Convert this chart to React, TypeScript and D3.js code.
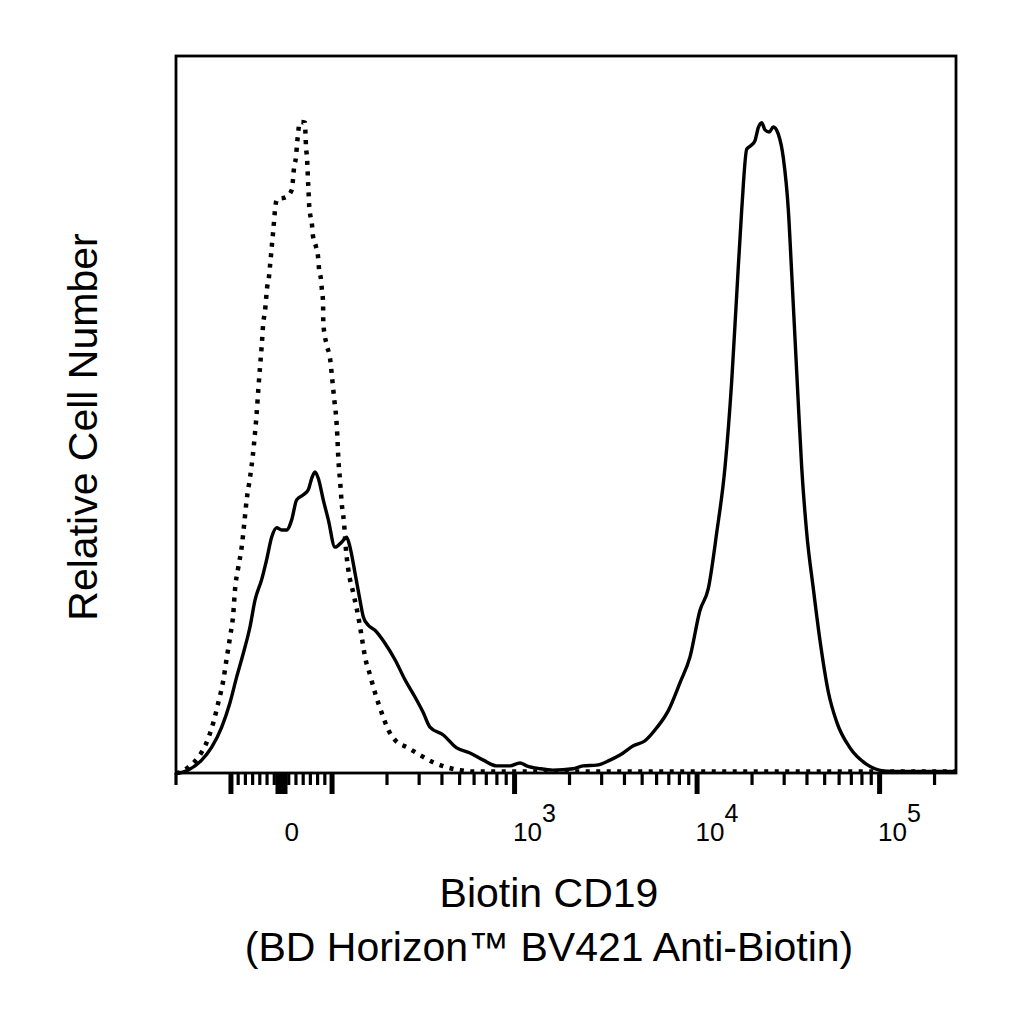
import React from 'react';
import * as d3 from 'd3';

// Histogram data: x in display channels (0..1000 across the axis), y in relative count
const solidSeries: [number, number][] = [
  [0, 0], [2.6, 0], [15.4, 0.4], [32.9, 1.8], [45.8, 3.6], [58.6, 6.4], [69.2, 9.8],
  [77.8, 13.4], [86.3, 16.7], [94.9, 20.4], [101.3, 24.1], [109.9, 27.0], [116.3, 29.8],
  [122.7, 32.9], [129.1, 34.2], [135.5, 33.9], [141.9, 33.9], [148.3, 35.3], [154.7, 38.1],
  [163.2, 38.8], [169.6, 39.5], [174.0, 41.1], [178.2, 42.0], [182.4, 41.1], [188.8, 38.1],
  [195.3, 35.3], [203.8, 31.5], [212.4, 32.2], [218.8, 32.9], [223.1, 31.5], [229.5, 27.9],
  [235.9, 24.1], [240.1, 21.8], [246.5, 20.6], [255.1, 19.9], [267.9, 18.1], [280.8, 15.8],
  [293.6, 13.0], [306.4, 10.6], [317.1, 8.4], [325.6, 6.4], [342.7, 5.3], [359.9, 3.5],
  [376.9, 2.8], [394.0, 1.8], [411.2, 1.0], [428.2, 1.0], [441.0, 1.4], [449.6, 1.0],
  [466.7, 0.6], [483.3, 0.4], [509.0, 0.6], [521.8, 1.0], [539.4, 1.1], [556.4, 1.8],
  [569.2, 2.5], [586.3, 3.8], [601.3, 4.5], [616.3, 6.3], [631.2, 8.7], [646.2, 12.6],
  [659.0, 16.2], [671.8, 22.7], [682.4, 25.7], [693.2, 33.5], [703.8, 42.6], [712.4, 54.6],
  [718.8, 66.6], [725.3, 78.6], [731.7, 87.0], [738.1, 87.6], [742.3, 88.2], [746.5, 90.0],
  [750.9, 90.7], [755.1, 89.7], [760.6, 89.4], [765.8, 90.1], [772.2, 89.1], [778.6, 85.8],
  [785.0, 78.6], [789.4, 69.6], [793.6, 60.6], [797.8, 51.6], [802.2, 42.6], [808.6, 33.5],
  [817.1, 25.7], [825.6, 18.5], [836.3, 11.3], [847.1, 7.1], [864.1, 3.5], [885.5, 1.2],
  [906.8, 0.3], [928.2, 0.2], [1000, 0.2],
];

const dottedSeries: [number, number][] = [
  [0, 0], [5.1, 0.1], [15.8, 0.8], [28.6, 2.2], [39.4, 4.3], [47.8, 7.0], [54.2, 9.8],
  [60.6, 12.9], [65.0, 16.0], [69.2, 18.9], [73.5, 22.3], [75.6, 25.5], [79.9, 28.7],
  [84.2, 31.5], [87.6, 34.9], [90.6, 38.1], [94.9, 41.2], [98.3, 44.1], [101.3, 47.4],
  [103.5, 50.3], [105.5, 53.4], [107.7, 56.6], [109.9, 59.6], [111.9, 62.8], [114.1, 64.4],
  [115.4, 66.0], [116.7, 67.6], [119.2, 69.2], [120.5, 70.7], [121.8, 72.2], [123.1, 73.8],
  [124.4, 75.3], [125.6, 76.8], [126.9, 78.5], [129.5, 80.0], [141.0, 80.3], [148.7, 81.4],
  [150.0, 82.8], [151.3, 84.4], [153.8, 85.9], [155.1, 87.6], [156.4, 89.1], [159.0, 90.8],
  [165.4, 90.7], [166.0, 89.1], [166.7, 87.3], [167.9, 85.9], [168.6, 84.4], [169.2, 82.7],
  [169.9, 81.2], [170.5, 79.6], [171.8, 78.1], [174.4, 76.4], [175.6, 74.9], [179.5, 73.4],
  [182.1, 72.0], [183.3, 70.4], [185.9, 68.8], [187.2, 67.2], [188.5, 65.7], [188.7, 64.2],
  [188.8, 62.8], [193.2, 59.7], [197.4, 57.9], [200.4, 54.8], [203.0, 52.0], [205.1, 49.9],
  [206.8, 47.1], [208.1, 43.9], [210.3, 40.8], [212.4, 37.7], [215.4, 34.9], [217.6, 31.5],
  [221.0, 28.3], [227.3, 25.1], [233.7, 21.8], [238.1, 19.0], [242.3, 16.2], [248.7, 13.7],
  [255.1, 11.2], [263.7, 8.4], [272.2, 6.0], [280.8, 4.6], [297.8, 3.5], [312.8, 2.5],
  [329.5, 1.5], [347.1, 0.8], [364.1, 0.4], [380.8, 0.2], [402.6, 0.2], [1000, 0.2],
];

// Axis ticks (fluorescence values)
const majorTicks = [-100, 100, 1000, 10000, 100000];
const zeroTick = [0];
const minorTicks = [
  -200, -85.7, -71.4, -57.1, -42.9, -28.6, -14.3, 14.3, 28.6, 42.9, 57.1, 71.4, 85.7,
  200, 300, 400, 500, 600, 700, 800, 900,
  2000, 3000, 4000, 5000, 6000, 7000, 8000, 9000,
  20000, 30000, 40000, 50000, 60000, 70000, 80000, 90000,
  200000,
];
const tickLabels: { value: number; base: string; exp: string }[] = [
  { value: 0, base: '0', exp: '' },
  { value: 1000, base: '10', exp: '3' },
  { value: 10000, base: '10', exp: '4' },
  { value: 100000, base: '10', exp: '5' },
];

const xTitle1 = 'Biotin CD19';
const xTitle2 = '(BD Horizon\u2122 BV421 Anti-Biotin)';
const yTitle = 'Relative Cell Number';

// biexponential-like display transform (linear near zero, log above)
const LIN = 100;
const K = 0.00277;
function biex(v: number): number {
  const a = Math.abs(v);
  const t = a <= LIN ? a * K : LIN * K + Math.log10(a / LIN);
  return Math.sign(v) * t;
}

const W = 1024;
const H = 1024;
const left = 176;
const right = 956;
const top = 56;
const bottom = 773;
const font = '"Liberation Sans", Arial, Helvetica, sans-serif';

export default function App() {
  const chan = d3.scaleLinear().domain([biex(-200), biex(262144)]).range([0, 1000]);
  const x = d3.scaleLinear().domain([0, 1000]).range([left, right]);
  const y = d3.scaleLinear().domain([0, 100]).range([bottom, top]);
  const vx = (v: number) => x(chan(biex(v)));

  const line = d3
    .line<[number, number]>()
    .x((d) => x(d[0]))
    .y((d) => y(d[1]))
    .curve(d3.curveMonotoneX);

  return (
    <svg
      width={W}
      height={H}
      viewBox={`0 0 ${W} ${H}`}
      style={{ position: 'absolute', left: 0, top: 0, background: '#fff' }}
    >
      <rect x={0} y={0} width={W} height={H} fill="#fff" />
      <path d={line(dottedSeries) || ''} fill="none" stroke="#000" strokeWidth={4.5} strokeDasharray="4 6.5" />
      <path d={line(solidSeries) || ''} fill="none" stroke="#000" strokeWidth={3.4} strokeLinejoin="round" />
      <rect x={left} y={top} width={right - left} height={bottom - top} fill="none" stroke="#000" strokeWidth={2.8} />
      {minorTicks.map((v) => (
        <line key={'mi' + v} x1={vx(v)} x2={vx(v)} y1={bottom} y2={bottom + 12} stroke="#000" strokeWidth={3.2} />
      ))}
      {majorTicks.map((v) => (
        <line key={'ma' + v} x1={vx(v)} x2={vx(v)} y1={bottom} y2={bottom + 21} stroke="#000" strokeWidth={5} />
      ))}
      {zeroTick.map((v) => (
        <line key={'z' + v} x1={vx(v)} x2={vx(v)} y1={bottom} y2={bottom + 21} stroke="#000" strokeWidth={12} />
      ))}
      {tickLabels.map((t) => (
        <text
          key={'l' + t.value}
          x={t.exp ? vx(t.value) - 1.5 : vx(t.value) + 3}
          y={841}
          fontFamily={font}
          fontSize={26}
          fill="#000"
        >
          {t.base}
          {t.exp ? (
            <tspan fontSize={25} dy={-19}>
              {t.exp}
            </tspan>
          ) : null}
        </text>
      ))}
      <text x={549} y={907} textAnchor="middle" fontFamily={font} fontSize={41} fill="#000">
        {xTitle1}
      </text>
      <text x={549} y={961} textAnchor="middle" fontFamily={font} fontSize={41} fill="#000">
        {xTitle2}
      </text>
      <text
        transform={`translate(97, 427) rotate(-90)`}
        textAnchor="middle"
        fontFamily={font}
        fontSize={41}
        fill="#000"
      >
        {yTitle}
      </text>
    </svg>
  );
}
